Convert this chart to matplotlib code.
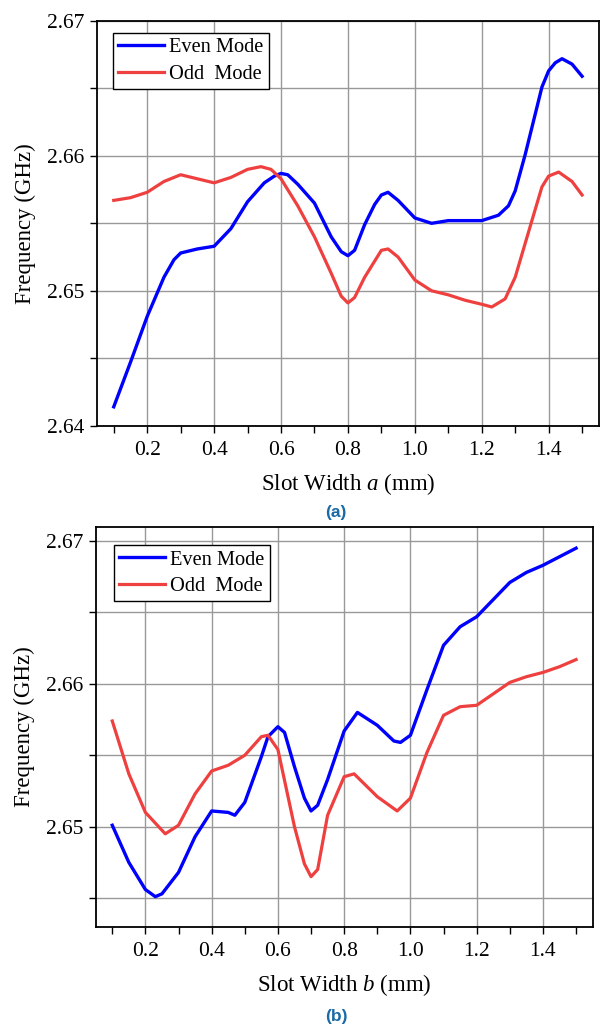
import matplotlib
matplotlib.use("Agg")
import matplotlib.pyplot as plt
from matplotlib.ticker import FixedLocator, FormatStrFormatter

plt.rcParams['font.family'] = ['Liberation Serif', 'DejaVu Serif']
plt.rcParams['mathtext.fontset'] = 'custom'
plt.rcParams['mathtext.rm'] = 'Liberation Serif'
plt.rcParams['mathtext.it'] = 'Liberation Serif:italic'

# ---------------- Panel (a): slot width a ----------------
a_even_x = [0.10, 0.15, 0.20, 0.25, 0.28, 0.30, 0.35, 0.40, 0.45, 0.50, 0.55, 0.58, 0.60, 0.62,
            0.65, 0.70, 0.75, 0.78, 0.80, 0.82, 0.85, 0.88, 0.90, 0.92, 0.95, 1.00, 1.05,
            1.10, 1.15, 1.20, 1.25, 1.28, 1.30, 1.33, 1.35, 1.38, 1.40, 1.42, 1.44, 1.47, 1.50]
a_even_y = [2.6414, 2.6447, 2.6481, 2.6510, 2.6523, 2.6528, 2.6531, 2.6533, 2.6546, 2.6566,
            2.6580, 2.6585, 2.6587, 2.6586, 2.6579, 2.6565, 2.6540, 2.6529, 2.6526, 2.6530,
            2.6549, 2.6564, 2.6571, 2.6573, 2.6567, 2.6554, 2.6550, 2.6552, 2.6552, 2.6552,
            2.6556, 2.6563, 2.6574, 2.6601, 2.6621, 2.6651, 2.6663, 2.6669, 2.6672, 2.6668,
            2.6659]

a_odd_x = [0.10, 0.15, 0.20, 0.25, 0.30, 0.35, 0.40, 0.45, 0.50, 0.54, 0.57, 0.60,
           0.65, 0.70, 0.75, 0.78, 0.80, 0.82, 0.85, 0.90, 0.92, 0.95, 1.00, 1.05, 1.10, 1.15,
           1.20, 1.23, 1.27, 1.30, 1.35, 1.38, 1.40, 1.43, 1.47, 1.50]
a_odd_y = [2.6567, 2.6569, 2.6573, 2.6581, 2.6586, 2.6583, 2.6580, 2.6584, 2.6590, 2.6592,
           2.6590, 2.6583, 2.6563, 2.6540, 2.6513, 2.6496, 2.6491, 2.6495, 2.6510, 2.6530,
           2.6531, 2.6525, 2.6508, 2.6500, 2.6497, 2.6493, 2.6490, 2.6488, 2.6494, 2.6510,
           2.6552, 2.6577, 2.6585, 2.6588, 2.6581, 2.6571]

# ---------------- Panel (b): slot width b ----------------
b_even_x = [0.10, 0.15, 0.20, 0.23, 0.25, 0.30, 0.35, 0.40, 0.45, 0.47, 0.50, 0.55,
            0.57, 0.60, 0.62, 0.65, 0.68, 0.70, 0.72, 0.75, 0.80, 0.84, 0.90, 0.95, 0.97,
            1.00, 1.05, 1.10, 1.15, 1.20, 1.25, 1.30, 1.35, 1.40, 1.45, 1.50]
b_even_y = [2.6501, 2.6475, 2.6456, 2.6451, 2.6453, 2.6468, 2.6493, 2.6511, 2.6510, 2.6508,
            2.6517, 2.6549, 2.6563, 2.6570, 2.6566, 2.6542, 2.6520, 2.6511, 2.6515, 2.6533,
            2.6567, 2.6580, 2.6571, 2.6560, 2.6559, 2.6564, 2.6596, 2.6627, 2.6640, 2.6647,
            2.6659, 2.6671, 2.6678, 2.6683, 2.6689, 2.6695]

b_odd_x = [0.10, 0.15, 0.20, 0.26, 0.30, 0.35, 0.40, 0.45, 0.50, 0.55, 0.57, 0.60,
           0.65, 0.68, 0.70, 0.72, 0.75, 0.80, 0.83, 0.90, 0.96, 1.00, 1.05, 1.10,
           1.15, 1.20, 1.25, 1.30, 1.35, 1.40, 1.45, 1.50]
b_odd_y = [2.6574, 2.6537, 2.6510, 2.6495, 2.6501, 2.6523, 2.6539, 2.6543, 2.6550, 2.6563,
           2.6564, 2.6554, 2.6500, 2.6474, 2.6465, 2.6470, 2.6508, 2.6535, 2.6537, 2.6521,
           2.6511, 2.6520, 2.6552, 2.6578, 2.6584, 2.6585, 2.6593, 2.6601, 2.6605, 2.6608,
           2.6612, 2.6617]

x_major = [0.2, 0.4, 0.6, 0.8, 1.0, 1.2, 1.4]
x_minor = [0.1, 0.3, 0.5, 0.7, 0.9, 1.1, 1.3, 1.5]
a_y_major = [2.64, 2.65, 2.66, 2.67]
b_y_major = [2.65, 2.66, 2.67]
y_minor = [2.645, 2.655, 2.665]

legend_labels = ["Even Mode", "Odd  Mode"]
captions = ["(a)", "(b)"]
xlabels = ["Slot Width $a$ (mm)", "Slot Width $b$ (mm)"]

BLUE = "#0000FF"
RED = "#EF4040"
GRID = "#999999"
CAP = "#1a6aa5"

fig = plt.figure(figsize=(6.0, 10.27), dpi=100)
ax1 = fig.add_axes([0.1617, 0.5855, 0.8363, 0.3941])
ax2 = fig.add_axes([0.1595, 0.0977, 0.8282, 0.3894])


def style(ax, ylim, ymajor, xlabel, leg_anchor):
    ax.set_xlim(0.05, 1.55)
    ax.set_ylim(*ylim)
    ax.xaxis.set_major_locator(FixedLocator(x_major))
    ax.xaxis.set_minor_locator(FixedLocator(x_minor))
    ax.yaxis.set_major_locator(FixedLocator(ymajor))
    ax.yaxis.set_minor_locator(FixedLocator(y_minor))
    ax.xaxis.set_major_formatter(FormatStrFormatter('%.1f'))
    ax.yaxis.set_major_formatter(FormatStrFormatter('%.2f'))
    ax.grid(True, which='major', axis='x', color=GRID, lw=1.0)
    ax.grid(True, which='both', axis='y', color=GRID, lw=1.0)
    ax.set_axisbelow(True)
    ax.tick_params(which='both', direction='out', length=5, width=1.0,
                   top=False, right=False, color='black')
    ax.tick_params(which='major', axis='x', labelsize=15.5, pad=6)
    ax.tick_params(which='major', axis='y', labelsize=15.5, pad=4)
    for s in ax.spines.values():
        s.set_linewidth(1.3)
        s.set_color('black')
    ax.set_xlabel(xlabel, fontsize=16.5, labelpad=8)
    ax.set_ylabel("Frequency (GHz)", fontsize=16.5, labelpad=8)
    leg = ax.legend(loc='upper left', bbox_to_anchor=leg_anchor, borderaxespad=0,
                    fontsize=14.7, frameon=True, fancybox=False, edgecolor='black',
                    framealpha=1, handlelength=2.25, handletextpad=0.25,
                    labelspacing=0.35, borderpad=0.25)
    leg.get_frame().set_linewidth(1.0)


ax1.plot(a_even_x, a_even_y, color=BLUE, lw=2.4, label=legend_labels[0], solid_joinstyle='round')
ax1.plot(a_odd_x, a_odd_y, color=RED, lw=2.3, label=legend_labels[1], solid_joinstyle='round')
style(ax1, (2.64, 2.67), a_y_major, xlabels[0], (0.032, 0.97))

ax2.plot(b_even_x, b_even_y, color=BLUE, lw=2.4, label=legend_labels[0], solid_joinstyle='round')
ax2.plot(b_odd_x, b_odd_y, color=RED, lw=2.3, label=legend_labels[1], solid_joinstyle='round')
style(ax2, (2.643, 2.671), b_y_major, xlabels[1], (0.037, 0.954))

fig.text(336 / 600, 1 - 512 / 1027, captions[0], ha='center', va='center',
         fontsize=12.5, fontweight='bold', color=CAP, family=['Liberation Sans', 'DejaVu Sans'])
fig.text(336 / 600, 1 - 1017 / 1027, captions[1], ha='center', va='center',
         fontsize=12.5, fontweight='bold', color=CAP, family=['Liberation Sans', 'DejaVu Sans'])

fig.savefig("out.png", dpi=100)
